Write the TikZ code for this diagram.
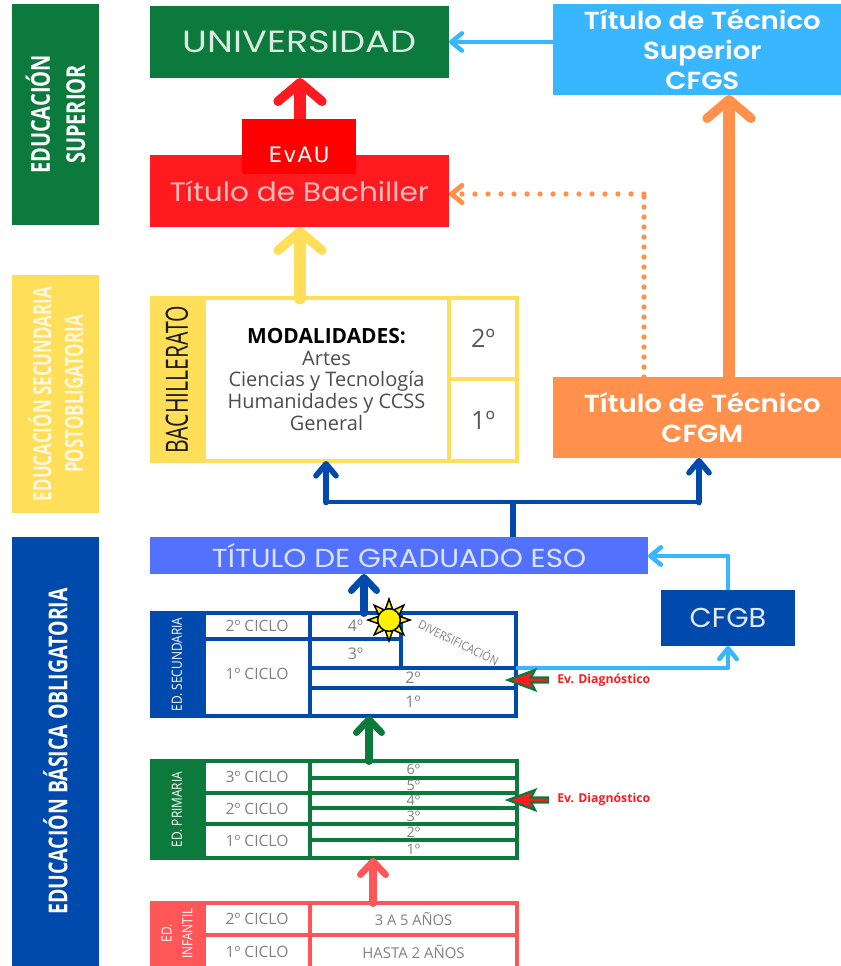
\documentclass[tikz,border=0pt]{standalone}
\usepackage{fontspec}
\usepackage{graphicx}
\setmainfont{Open Sans}
\newfontfamily\titlefont{Poppins}
\newfontfamily\semifont{Poppins SemiBold}
\newfontfamily\evfont{DejaVu Sans}
\usetikzlibrary{arrows.meta,calc}
\definecolor{cgreen}{HTML}{0B7A3C}
\definecolor{cred}{HTML}{FF1A1F}
\definecolor{cyel}{HTML}{FFDE59}
\definecolor{cnavy}{HTML}{004AAD}
\definecolor{cperi}{HTML}{5271FF}
\definecolor{ccoral}{HTML}{FF5757}
\definecolor{csky}{HTML}{38B6FF}
\definecolor{corange}{HTML}{FF914D}
\definecolor{cgreytext}{HTML}{808080}
\newdimen\fsd
\newcommand\fs[1]{\fsd=#1pt \fsd=1.2\fsd \fontsize{#1}{\fsd}\selectfont}
\newcommand\wide[2]{\scalebox{#1}[1]{#2}}
% name, x1, y1, x2, y2, options, text
\newcommand\pxbox[7]{%
  \pgfmathsetmacro\bw{(#4-#2)*0.75}%
  \pgfmathsetmacro\bh{(#5-#3)*0.75}%
  \node[inner sep=0pt,outer sep=0pt,minimum width=\bw pt,minimum height=\bh pt,align=center,#6] (#1) at ({(#2+#4)/2},{(#3+#5)/2}) {#7};}
\tikzset{
  bigarrow/.style={line width=9.5pt,line cap=round,-{Straight Barb[round,length=14pt,width=33pt,line width=7pt]}},
  midarrow/.style={line width=5pt,line cap=round,-{Straight Barb[round,length=9pt,width=15pt,line width=4.2pt]}},
  fatarrow/.style={line width=6pt,line cap=round,-{Straight Barb[round,length=10pt,width=19pt,line width=5pt]}},
  thinarrow/.style={line width=3.7pt,line join=round,-{Straight Barb[round,length=8pt,width=13pt,line width=3.4pt]}},
  dotv/.style={corange,line width=4pt,line cap=round,dash pattern=on 0pt off 7.5pt},
  doth/.style={corange,line width=4pt,line cap=round,dash pattern=on 0pt off 9.75pt,-{Straight Barb[round,length=8pt,width=13pt,line width=3.6pt]}},
  evarrow/.style={draw=cgreen,fill=cred,line width=1.7pt,line join=miter},
  side/.style={text=white,align=center,font=\bfseries\fs{19.5}},
  title/.style={text=white},
  cell/.style={draw=#1,line width=2.7pt,text=cgreytext,font=\fs{11.7}},
  frame/.style={draw=#1,line width=3.6pt},
  digit/.style={font=\fs{12}},
  pdigit/.style={font=\fs{10.8}},
  level/.style={fill=#1,text=white,font=\fs{10.5}},
  evlabel/.style={text=cred,font=\bfseries\fs{9.2},anchor=west,inner sep=0pt},
  ray/.style={fill=yellow,draw=black,line width=1.1pt,line join=miter}
}
\begin{document}
\begin{tikzpicture}[x=0.75pt,y=-0.75pt]
\useasboundingbox (0,0) rectangle (841,966);
% left bands
\pxbox{bandsup}{12}{4}{99}{225}{fill=cgreen}{}
\node[side,rotate=90,xscale=.77] (lsup) at (bandsup) {EDUCACIÓN\\[3pt]SUPERIOR};
\pxbox{bandpos}{12}{275}{99}{513}{fill=cyel}{}
\node[side,font=\bfseries\fs{19},rotate=90,xscale=.67,text=white!80!cyel] (lpos) at (bandpos) {EDUCACIÓN SECUNDARIA\\[1pt]POSTOBLIGATORIA};
\pxbox{bandobl}{12}{537}{99}{966}{fill=cnavy}{}
\node[side,rotate=90,xscale=.75] (lobl) at (bandobl) {EDUCACIÓN BÁSICA OBLIGATORIA};
% top boxes
\pxbox{univ}{150}{6}{449}{78}{fill=cgreen,title,text=white!85!cgreen,font=\titlefont\fs{23}}{\wide{1.2}{UNIVERSIDAD}}
\pxbox{cfgs}{553}{4}{841}{95}{fill=csky,title,font=\semifont\fs{18.5}}{\hspace*{8pt}\wide{1.12}{Título de Técnico}\\\hspace*{8pt}\wide{1.12}{Superior}\\\hspace*{8pt}\wide{1.12}{CFGS}}
\pxbox{bach}{150}{155}{449}{227}{fill=cred,title,text=white!70!cred,font=\titlefont\fs{20}}{\wide{1.107}{Título de Bachiller}}
% connector coordinates
\coordinate (xorange) at (729,0);
\coordinate (xdot) at (644,0);
\coordinate (ydot) at (0,194);
\coordinate (xbranch) at (0,502);
\coordinate (lb) at (326,0);
\coordinate (rb) at (699,0);
\coordinate (xeso) at (364,0);
\coordinate (xsec) at (369,0);
\coordinate (xinf) at (373,0);
\coordinate (trunk) at (513,0);
\coordinate (ysec2) at (0,668);
\coordinate (ycfgb) at (0,556);
\coordinate (xpt) at (300,0);
\coordinate (evmid) at (0,146);
% this arrow runs behind the EvAU box
\draw[bigarrow,cred,line cap=butt] (xpt |- evmid) -- (univ.south -| xpt);
\pxbox{evau}{242}{119}{356}{174}{fill=red}{}
\node[text=white,font=\evfont\fs{16},inner sep=0pt] (evautxt) at (299,155) {\addfontfeature{LetterSpace=7}EvAU};
% bachillerato
\pxbox{bfill}{150}{296}{204}{463}{fill=cyel,text=black}{}
\node[rotate=90,xscale=.69,font=\fs{23},text=black!90] (blabel) at (bfill) {BACHILLERATO};
\pxbox{bmod}{204}{298}{449}{461}{cell=cyel,line width=3.4pt,text=black!70,font=\fontsize{15}{16.3}\selectfont}{{\bfseries\fontsize{15.7}{16.3}\selectfont\color{black} MODALIDADES:}\\Artes\\Ciencias y Tecnología\\Humanidades y CCSS\\General}
\pxbox{b2}{449}{298}{517}{379}{cell=cyel,line width=3.4pt,text=black!65,font=\fs{19}}{2º}
\pxbox{b1}{449}{379}{517}{461}{cell=cyel,line width=3.4pt,text=black!65,font=\fs{19}}{1º}
\pxbox{cfgm}{553}{377}{841}{458}{fill=corange,title,font=\semifont\fs{18.5}}{\hspace*{8pt}\wide{1.12}{Título de Técnico}\\\hspace*{8pt}\wide{1.12}{CFGM}}
\pxbox{eso}{150}{537}{648}{574}{fill=cperi,title,text=white!80!cperi,font=\titlefont\fs{19.5}}{\wide{1.13}{TÍTULO DE GRADUADO ESO}}
\pxbox{cfgb}{661}{590}{795}{646}{fill=cnavy,title,text=white!88!cnavy,font=\titlefont\fs{20.5}}{\wide{1.05}{CFGB}}
% secundaria
\pxbox{sfill}{150}{611}{204}{718}{level=cnavy}{}
\node[rotate=90,xscale=.85,text=white,font=\fs{10.5}] (slabel) at (sfill) {ED. SECUNDARIA};
\pxbox{sc2}{204}{613}{310}{639}{cell=cnavy}{2º CICLO}
\pxbox{sc1}{204}{639}{310}{716}{cell=cnavy}{}
\node[text=cgreytext,font=\fs{11.7}] (sc1txt) at (257,674) {1º CICLO};
\pxbox{s4}{310}{613}{401}{639}{cell=cnavy,digit}{4º}
\pxbox{s3}{310}{639}{401}{668}{cell=cnavy,digit}{3º}
\pxbox{sdiv}{401}{613}{516}{668}{cell=cnavy}{}
\node[rotate=-26,text=cgreytext,font=\fs{9},xscale=.9] (divtxt) at (459,642) {DIVERSIFICACIÓN};
\pxbox{s2}{310}{668}{516}{688}{cell=cnavy,digit}{2º}
\pxbox{s1}{310}{688}{516}{716}{cell=cnavy,digit}{1º}
\pxbox{sframe}{204}{613}{516}{716}{frame=cnavy}{}
% primaria
\pxbox{pfill}{150}{759}{204}{860}{level=cgreen}{}
\node[rotate=90,xscale=.85,text=white,font=\fs{10.5}] (plabel) at (pfill) {ED. PRIMARIA};
\pxbox{pc3}{204}{761}{310}{793}{cell=cgreen}{3º CICLO}
\pxbox{pc2}{204}{793}{310}{824}{cell=cgreen}{2º CICLO}
\pxbox{pc1}{204}{824}{310}{858}{cell=cgreen}{1º CICLO}
\pxbox{p6}{310}{761}{517}{778}{cell=cgreen,pdigit}{6º}
\pxbox{p5}{310}{778}{517}{793}{cell=cgreen,pdigit}{5º}
\pxbox{p4}{310}{793}{517}{808}{cell=cgreen,pdigit}{4º}
\pxbox{p3}{310}{808}{517}{824}{cell=cgreen,pdigit}{3º}
\pxbox{p2}{310}{824}{517}{840}{cell=cgreen,pdigit}{2º}
\pxbox{p1}{310}{840}{517}{858}{cell=cgreen,pdigit}{1º}
\pxbox{pframe}{204}{761}{517}{858}{frame=cgreen}{}
% infantil
\pxbox{ifill}{150}{901}{204}{966}{level=ccoral}{}
\node[rotate=90,xscale=.85,text=white,font=\fs{10.5},align=center] (ilabel) at (ifill) {ED.\\[3pt]INFANTIL};
\pxbox{ic2}{204}{903}{310}{935}{cell=ccoral}{2º CICLO}
\pxbox{ic1}{204}{935}{310}{968}{cell=ccoral}{1º CICLO}
\pxbox{ia2}{310}{903}{517}{935}{cell=ccoral,font=\fs{11}}{3 A 5 AÑOS}
\pxbox{ia1}{310}{935}{517}{968}{cell=ccoral,font=\fs{11.2}}{HASTA 2 AÑOS}
\pxbox{iframe}{204}{903}{517}{968}{frame=ccoral}{}
% connectors
\draw[bigarrow,cyel] (bmod.north -| xpt) -- (bach.south -| xpt);
\draw[bigarrow,corange,line cap=butt] (cfgm.north -| xorange) -- (cfgs.south -| xorange);
\draw[thinarrow,csky,line cap=round] (cfgs.west |- univ.west) -- (univ.east);
\draw[dotv] (cfgm.north -| xdot) -- (xdot |- ydot);
\draw[doth] (xdot |- ydot) -- (bach.east |- ydot);
\draw[cnavy,line width=4.5pt] (eso.north -| trunk) -- (trunk |- xbranch);
\draw[cnavy,line width=3.6pt,line cap=round] (lb |- xbranch) -- (rb |- xbranch);
\draw[midarrow,cnavy] (lb |- xbranch) -- (bmod.south -| lb);
\draw[midarrow,cnavy] (rb |- xbranch) -- (cfgm.south -| rb);
\draw[fatarrow,cnavy] (s4.north -| xeso) -- (eso.south -| xeso);
\draw[fatarrow,cgreen] (pframe.north -| xsec) -- (sframe.south -| xsec);
\draw[fatarrow,ccoral] (iframe.north -| xinf) -- (pframe.south -| xinf);
\draw[thinarrow,csky] (s2.east |- ysec2) -- (cfgb.south |- ysec2) -- (cfgb.south);
\draw[thinarrow,csky] (cfgb.north) -- (cfgb.north |- ycfgb) -- (eso.east |- ycfgb);
% evaluation arrows
\node[evlabel] (ev1) at (557,680) {Ev. Diagnóstico};
\node[evlabel] (ev2) at (557,799) {Ev. Diagnóstico};
\foreach \yy in {680,800}{
  \draw[evarrow] (508,\yy) -- (535,\yy-10) -- (531,\yy-2.5) -- (548,\yy-2.5) -- (548,\yy+2.5) -- (531,\yy+2.5) -- (535,\yy+10) -- cycle;
}
% sun
\foreach \a in {0,45,...,315}{
  \draw[ray] ($(389,620)+(\a:21)$) -- ($(389,620)+(\a+20:11)$) -- ($(389,620)+(\a-20:11)$) -- cycle;
}
\node[circle,fill=yellow,draw=black,line width=1.1pt,minimum size=17pt,inner sep=0pt] (sun) at (389,620) {};
\end{tikzpicture}
\end{document}
